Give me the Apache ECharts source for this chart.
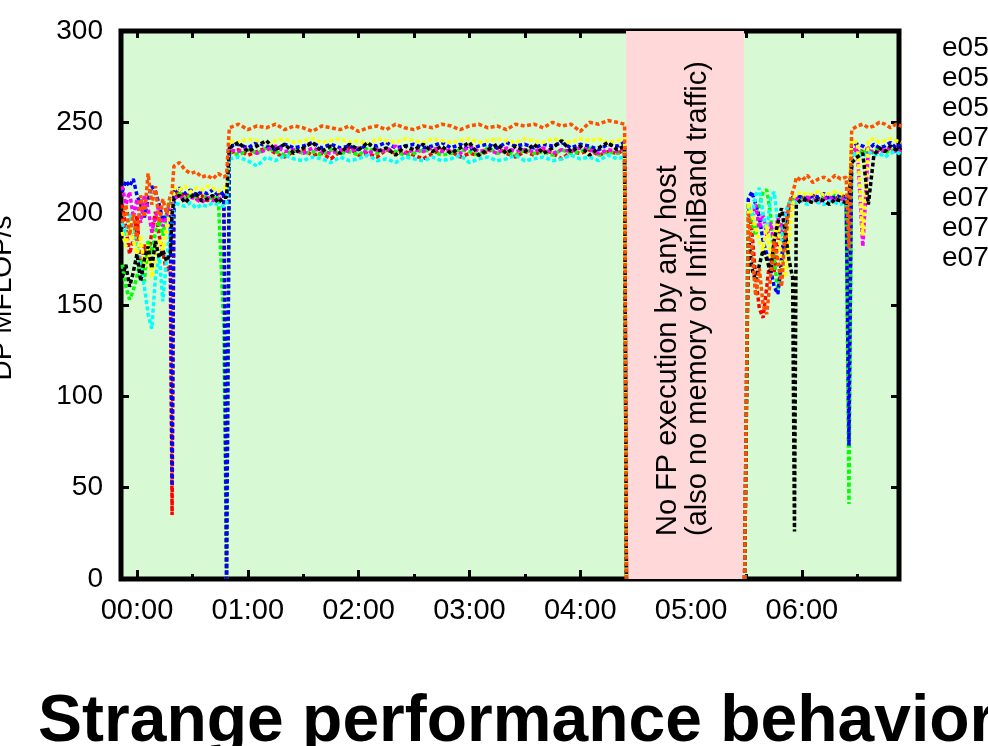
<!DOCTYPE html>
<html>
<head>
<meta charset="utf-8">
<title>DP MFLOP/s per host</title>
<script src="https://cdn.jsdelivr.net/npm/echarts@6/dist/echarts.min.js"></script>
<style>
  html, body { margin: 0; padding: 0; background: #fff; }
  #chart { width: 988px; height: 746px; }
</style>
</head>
<body>
<div id="chart"></div>
<script>
// sample times, minutes after 00:00 (the null row is the idle gap)
const times = [
  -8, -6, -4, -2, 0, 2, 4, 6, 8, 10, 12, 14, 16, 18,
  19,
  20, 23, 26, 29, 32, 35, 38, 41, 44, 47,
  48.5,
  50, 55, 60, 65, 70, 75, 80, 85, 90, 95, 100,
  105, 110, 115, 120, 125, 130, 135, 140, 145, 150, 155,
  160, 165, 170, 175, 180, 185, 190, 195, 200, 205, 210,
  215, 220, 225, 230, 235, 240, 245, 250, 255, 260, 264,
  265, 297, 329,
  331, 333, 335, 337, 339, 341, 343, 345, 347, 349, 351, 353, 355,
  356,
  357, 360, 363, 366, 369, 372, 375, 378, 381, 384,
  385.5,
  387, 390, 393, 396, 399, 402, 405, 408, 411, 414
]

const hostNames = ['e0501', 'e0502', 'e0503', 'e0701', 'e0702', 'e0703', 'e0704', 'e0705']
const hostColors = ['#ff0000', '#00ff00', '#0000ff', '#ff00ff', '#00ffff', '#ffff00', '#000000', '#ff5000']

const red = [
  205, 192, 178, 186, 199, 170, 183, 175, 190, 201, 188, 179, 168, 172,
  35,
  210, 212, 209, 211, 208, 210, 207, 209, 211, 210,
  0,
  233, 235, 232, 234, 236, 233, 231, 234, 235, 232, 233,
  230, 234, 236, 232, 233, 231, 235, 233, 234, 232, 230,
  233, 235, 234, 231, 233, 232, 234, 236, 233, 231, 234,
  232, 235, 233, 230, 234, 233, 235, 232, 234, 233, 235,
  0, null, 0,
  205, 190, 165, 148, 143, 160, 178, 168, 185, 195, 180, 200, 206,
  207,
  208, 209, 207, 210, 208, 209, 207, 208, 210, 209,
  117,
  233, 235, 234, 236, 233, 235, 234, 236, 235, 234
]
const green = [
  172, 160, 153, 158, 166, 175, 163, 185, 178, 190, 196, 188, 200, 206,
  205,
  209, 211, 208, 210, 209, 207, 210, 208, 209, 138,
  0,
  234, 232, 235, 233, 236, 234, 232, 235, 233, 234, 232,
  235, 233, 234, 232, 236, 233, 235, 234, 232, 233, 235,
  234, 232, 233, 235, 234, 232, 236, 233, 234, 232, 235,
  233, 234, 232, 235, 233, 234, 236, 232, 234, 233, 234,
  0, null, 0,
  200, 195, 188, 205, 212, 213, 200, 175, 158, 170, 190, 205, 208,
  208,
  209, 208, 210, 209, 207, 209, 208, 210, 209, 208,
  41,
  234, 232, 235, 233, 234, 236, 233, 235, 234, 233
]
const blue = [
  212, 218, 215, 219, 210, 205, 198, 208, 215, 212, 205, 196, 200, 205,
  51,
  212, 214, 211, 213, 210, 212, 211, 213, 210, 212,
  0,
  237, 238, 236, 239, 237, 235, 238, 236, 237, 239, 236,
  238, 236, 237, 235, 238, 237, 239, 236, 237, 238, 236,
  237, 239, 236, 238, 235, 237, 238, 236, 239, 237, 238,
  236, 238, 237, 239, 236, 238, 237, 235, 238, 237, 239,
  0, null, 0,
  208, 212, 205, 198, 185, 178, 170, 160, 156, 175, 195, 205, 209,
  208,
  210, 209, 208, 210, 209, 211, 208, 209, 210, 209,
  73,
  236, 238, 237, 235, 238, 236, 237, 239, 236, 238
]
const magenta = [
  215, 205, 212, 198, 208, 195, 210, 203, 190, 198, 205, 193, 198, 204,
  204,
  208, 210, 207, 209, 208, 206, 209, 207, 208, 209,
  209,
  235, 234, 236, 233, 235, 237, 234, 235, 233, 236, 234,
  233, 235, 234, 236, 233, 235, 234, 237, 233, 235, 234,
  236, 234, 235, 233, 237, 234, 235, 233, 236, 234, 235,
  234, 236, 233, 235, 234, 236, 235, 233, 235, 234, 236,
  0, null, 0,
  202, 198, 205, 192, 200, 188, 195, 185, 198, 190, 200, 205, 207,
  207,
  208, 207, 209, 208, 206, 208, 209, 207, 208, 207,
  208,
  234, 236, 182, 235, 233, 234, 235, 236, 234, 235
]
const cyan = [
  195, 188, 200, 190, 183, 170, 160, 145, 137, 165, 178, 152, 175, 190,
  195,
  206, 205, 204, 206, 203, 205, 204, 206, 205, 204,
  205,
  230, 231, 229, 226, 231, 229, 232, 230, 229, 231, 230,
  228, 231, 229, 230, 232, 229, 230, 228, 231, 230, 229,
  231, 229, 230, 232, 228, 230, 231, 229, 230, 232, 229,
  230, 231, 229, 230, 232, 230, 231, 229, 232, 230, 231,
  0, null, 0,
  205, 198, 210, 214, 200, 190, 208, 212, 195, 185, 200, 206, 207,
  207,
  206, 207, 205, 207, 206, 205, 207, 206, 205, 207,
  206,
  232, 233, 231, 234, 232, 233, 231, 233, 234, 232
]
const yellow = [
  190, 182, 195, 185, 178, 188, 170, 183, 165, 175, 186, 180, 192, 200,
  205,
  214, 213, 215, 212, 214, 213, 215, 214, 212, 214,
  214,
  240, 239, 241, 240, 238, 240, 241, 239, 240, 241, 239,
  240, 241, 239, 240, 238, 241, 240, 239, 241, 240, 239,
  241, 240, 239, 240, 241, 239, 240, 241, 240, 239, 241,
  240, 239, 241, 240, 239, 241, 240, 241, 239, 240, 241,
  0, null, 0,
  206, 200, 192, 185, 180, 194, 175, 188, 196, 172, 165, 185, 205,
  210,
  211, 212, 210, 211, 212, 210, 211, 212, 211, 210,
  212,
  240, 239, 188, 240, 241, 239, 240, 241, 240, 239
]
const black = [
  165, 172, 160, 168, 178, 163, 175, 182, 170, 185, 176, 180, 174, 178,
  200,
  208, 210, 206, 209, 211, 207, 208, 210, 206, 209,
  209,
  236, 239, 234, 237, 240, 235, 238, 233, 236, 239, 234,
  237, 233, 238, 235, 239, 234, 236, 232, 237, 235, 238,
  234, 237, 233, 236, 239, 232, 235, 238, 233, 237, 234,
  238, 233, 236, 240, 234, 237, 232, 236, 239, 235, 237,
  0, null, 0,
  188, 170, 163, 172, 180, 175, 168, 185, 195, 203, 190, 175, 165,
  26,
  205, 208, 207, 206, 208, 207, 205, 208, 207, 206,
  207,
  228, 231, 233, 205, 232, 236, 234, 237, 235, 236
]
const orange = [
  195, 205, 188, 200, 185, 210, 198, 222, 205, 215, 195, 208, 200, 210,
  212,
  226, 228, 224, 222, 223, 220, 221, 219, 222, 220,
  221,
  247, 249, 246, 248, 247, 249, 246, 248, 247, 245, 248,
  247, 246, 248, 245, 247, 248, 246, 249, 247, 246, 248,
  247, 249, 248, 246, 248, 249, 247, 248, 246, 249, 248,
  249, 247, 250, 248, 249, 245, 250, 249, 251, 250, 249,
  0, null, 0,
  200, 180, 155, 170, 150, 145, 165, 185, 175, 160, 190, 205, 212,
  215,
  220, 218, 221, 217, 219, 220, 218, 221, 219, 220,
  181,
  246, 248, 249, 247, 248, 250, 249, 247, 249, 248
]
const hostValues = [red, green, blue, magenta, cyan, yellow, black, orange]

const hourTicks = [0, 60, 120, 180, 240, 300, 360]
const halfHourTicks = [30, 90, 150, 210, 270, 330, 390]
const idleSpan = [264.8, 328.7]

const fontFamily = 'Liberation Sans, Arial, Helvetica, sans-serif'
const xMin = -8.66
const xMax = 412.6

const pad2 = (n) => String(n).padStart(2, '0')
const formatClock = (v) => pad2(Math.floor(v / 60)) + ':' + pad2(v % 60)

const plainAxis = {
  type: 'value',
  min: xMin,
  max: xMax,
  axisLine: { show: false, onZero: false },
  splitLine: { show: false },
  axisLabel: { show: false }
}
const tickStyle = { color: '#000', width: 3 }

const chart = echarts.init(document.getElementById('chart'))
chart.setOption({
  animation: false,
  grid: {
    left: 121,
    right: 89,
    top: 31,
    bottom: 167,
    show: true,
    backgroundColor: '#d7fad5',
    borderColor: '#000',
    borderWidth: 5
  },
  legend: {
    orient: 'vertical',
    left: 942,
    top: 34,
    align: 'right',
    padding: 0,
    itemGap: 0.4,
    itemWidth: 30,
    itemHeight: 10,
    selectedMode: false,
    textStyle: { fontSize: 28, fontFamily, color: '#000', lineHeight: 29.5 },
    data: hostNames
  },
  xAxis: [{
    ...plainAxis,
    position: 'bottom',
    axisTick: { inside: true, length: 9, lineStyle: tickStyle, customValues: hourTicks },
    axisLabel: {
      customValues: hourTicks,
      formatter: formatClock,
      fontSize: 29,
      fontFamily,
      color: '#000',
      margin: 17
    }
  }, {
    ...plainAxis,
    position: 'bottom',
    axisTick: { inside: true, length: 5, lineStyle: tickStyle, customValues: halfHourTicks }
  }, {
    ...plainAxis,
    position: 'top',
    axisTick: { inside: true, length: 7, lineStyle: tickStyle, customValues: hourTicks.concat(halfHourTicks) }
  }],
  yAxis: [{
    type: 'value',
    min: 0,
    max: 300,
    interval: 50,
    axisLine: { show: false, onZero: false },
    splitLine: { show: false },
    axisTick: { inside: true, length: 8, lineStyle: tickStyle },
    axisLabel: { fontSize: 28, fontFamily, color: '#000', margin: 18 }
  }, {
    type: 'value',
    position: 'right',
    min: 0,
    max: 300,
    interval: 50,
    axisLine: { show: false, onZero: false },
    splitLine: { show: false },
    axisLabel: { show: false },
    axisTick: { inside: true, length: 8, lineStyle: tickStyle }
  }],
  series: hostNames.map((name, i) => ({
    name,
    type: 'line',
    xAxisIndex: 0,
    yAxisIndex: 0,
    symbol: 'none',
    color: hostColors[i],
    lineStyle: { width: 3.5, type: [4, 2.5], color: hostColors[i] },
    data: times.map((t, j) => [t, hostValues[i][j]]),
    markArea: i === 0 ? {
      silent: true,
      itemStyle: { color: '#ffd9d9' },
      data: [[{ xAxis: idleSpan[0] }, { xAxis: idleSpan[1] }]]
    } : undefined
  })),
  graphic: [{
    type: 'text',
    x: 3,
    y: 298,
    rotation: Math.PI / 2,
    style: {
      text: 'DP MFLOP/s',
      font: '28px ' + fontFamily,
      fill: '#000',
      align: 'center',
      verticalAlign: 'middle'
    }
  }, {
    type: 'text',
    x: 683,
    y: 536,
    z: 20,
    rotation: Math.PI / 2,
    style: {
      text: 'No FP execution by any host\n(also no memory or InfiniBand traffic)',
      font: '29px ' + fontFamily,
      lineHeight: 30,
      fill: '#000',
      align: 'left',
      verticalAlign: 'middle'
    }
  }, {
    type: 'text',
    x: 38,
    y: 723,
    style: {
      text: 'Strange performance behavior',
      font: 'bold 66px ' + fontFamily,
      fill: '#000',
      align: 'left',
      verticalAlign: 'middle'
    }
  }]
})
</script>
</body>
</html>
